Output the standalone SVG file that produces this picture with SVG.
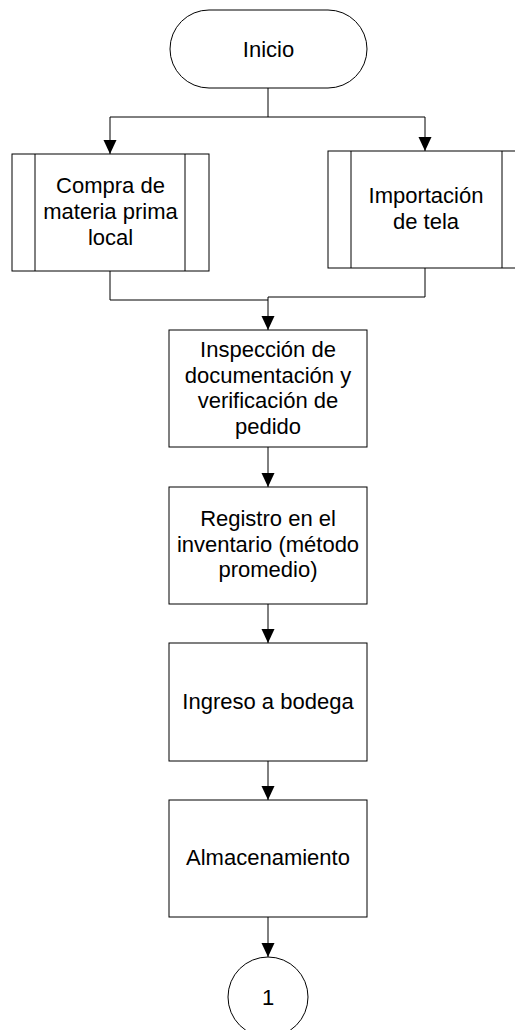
<svg xmlns="http://www.w3.org/2000/svg" width="515" height="1030" viewBox="0 0 515 1030">
<defs>
<style>
.s{fill:#fff;stroke:#000;stroke-width:1}
.c{fill:none;stroke:#000;stroke-width:1}
.t{font-family:"Liberation Sans",Arial,sans-serif;font-size:22px;fill:#000;text-anchor:middle}
</style>
<marker id="a" markerUnits="userSpaceOnUse" markerWidth="14" markerHeight="14" refX="14" refY="6.5" orient="auto">
<path d="M0,0 L14,6.5 L0,13 z" fill="#000"/>
</marker>
</defs>
<g id="connectors">
<path class="c" d="M268,88 V117 H110 V154" marker-end="url(#a)"/>
<path class="c" d="M268,117 H425 V151" marker-end="url(#a)"/>
<path class="c" d="M110,271 V300 H268"/>
<path class="c" d="M425,268 V297 H268 V330" marker-end="url(#a)"/>
<path class="c" d="M268,447 V487" marker-end="url(#a)"/>
<path class="c" d="M268,604 V643" marker-end="url(#a)"/>
<path class="c" d="M268,761 V800" marker-end="url(#a)"/>
<path class="c" d="M268,917 V957" marker-end="url(#a)"/>
</g>
<g id="inicio">
<rect class="s" x="170" y="10" width="197" height="78" rx="39" ry="39"/>
<text class="t" x="268.5" y="57">Inicio</text>
</g>
<g id="compra">
<rect class="s" x="12" y="154" width="197" height="117"/>
<line class="c" x1="35" y1="154" x2="35" y2="271"/>
<line class="c" x1="185" y1="154" x2="185" y2="271"/>
<text class="t" x="110.5" y="193">Compra de</text>
<text class="t" x="110.5" y="219">materia prima</text>
<text class="t" x="110.5" y="245">local</text>
</g>
<g id="importacion">
<rect class="s" x="328" y="151" width="197" height="117"/>
<line class="c" x1="351" y1="151" x2="351" y2="268"/>
<line class="c" x1="502" y1="151" x2="502" y2="268"/>
<text class="t" x="426" y="203">Importación</text>
<text class="t" x="426" y="229">de tela</text>
</g>
<g id="inspeccion">
<rect class="s" x="169" y="330" width="198" height="117"/>
<text class="t" x="268" y="357">Inspección de</text>
<text class="t" x="268" y="382.5">documentación y</text>
<text class="t" x="268" y="408">verificación de</text>
<text class="t" x="268" y="433.5">pedido</text>
</g>
<g id="registro">
<rect class="s" x="169" y="487" width="198" height="117"/>
<text class="t" x="268" y="526">Registro en el</text>
<text class="t" x="268" y="552">inventario (método</text>
<text class="t" x="268" y="577">promedio)</text>
</g>
<g id="ingreso">
<rect class="s" x="169" y="643" width="198" height="118"/>
<text class="t" x="268" y="709">Ingreso a bodega</text>
</g>
<g id="almacenamiento">
<rect class="s" x="169" y="800" width="198" height="117"/>
<text class="t" x="268" y="865">Almacenamiento</text>
</g>
<g id="conector1">
<circle class="s" cx="268" cy="997" r="40"/>
<text class="t" x="268" y="1005">1</text>
</g>
</svg>
